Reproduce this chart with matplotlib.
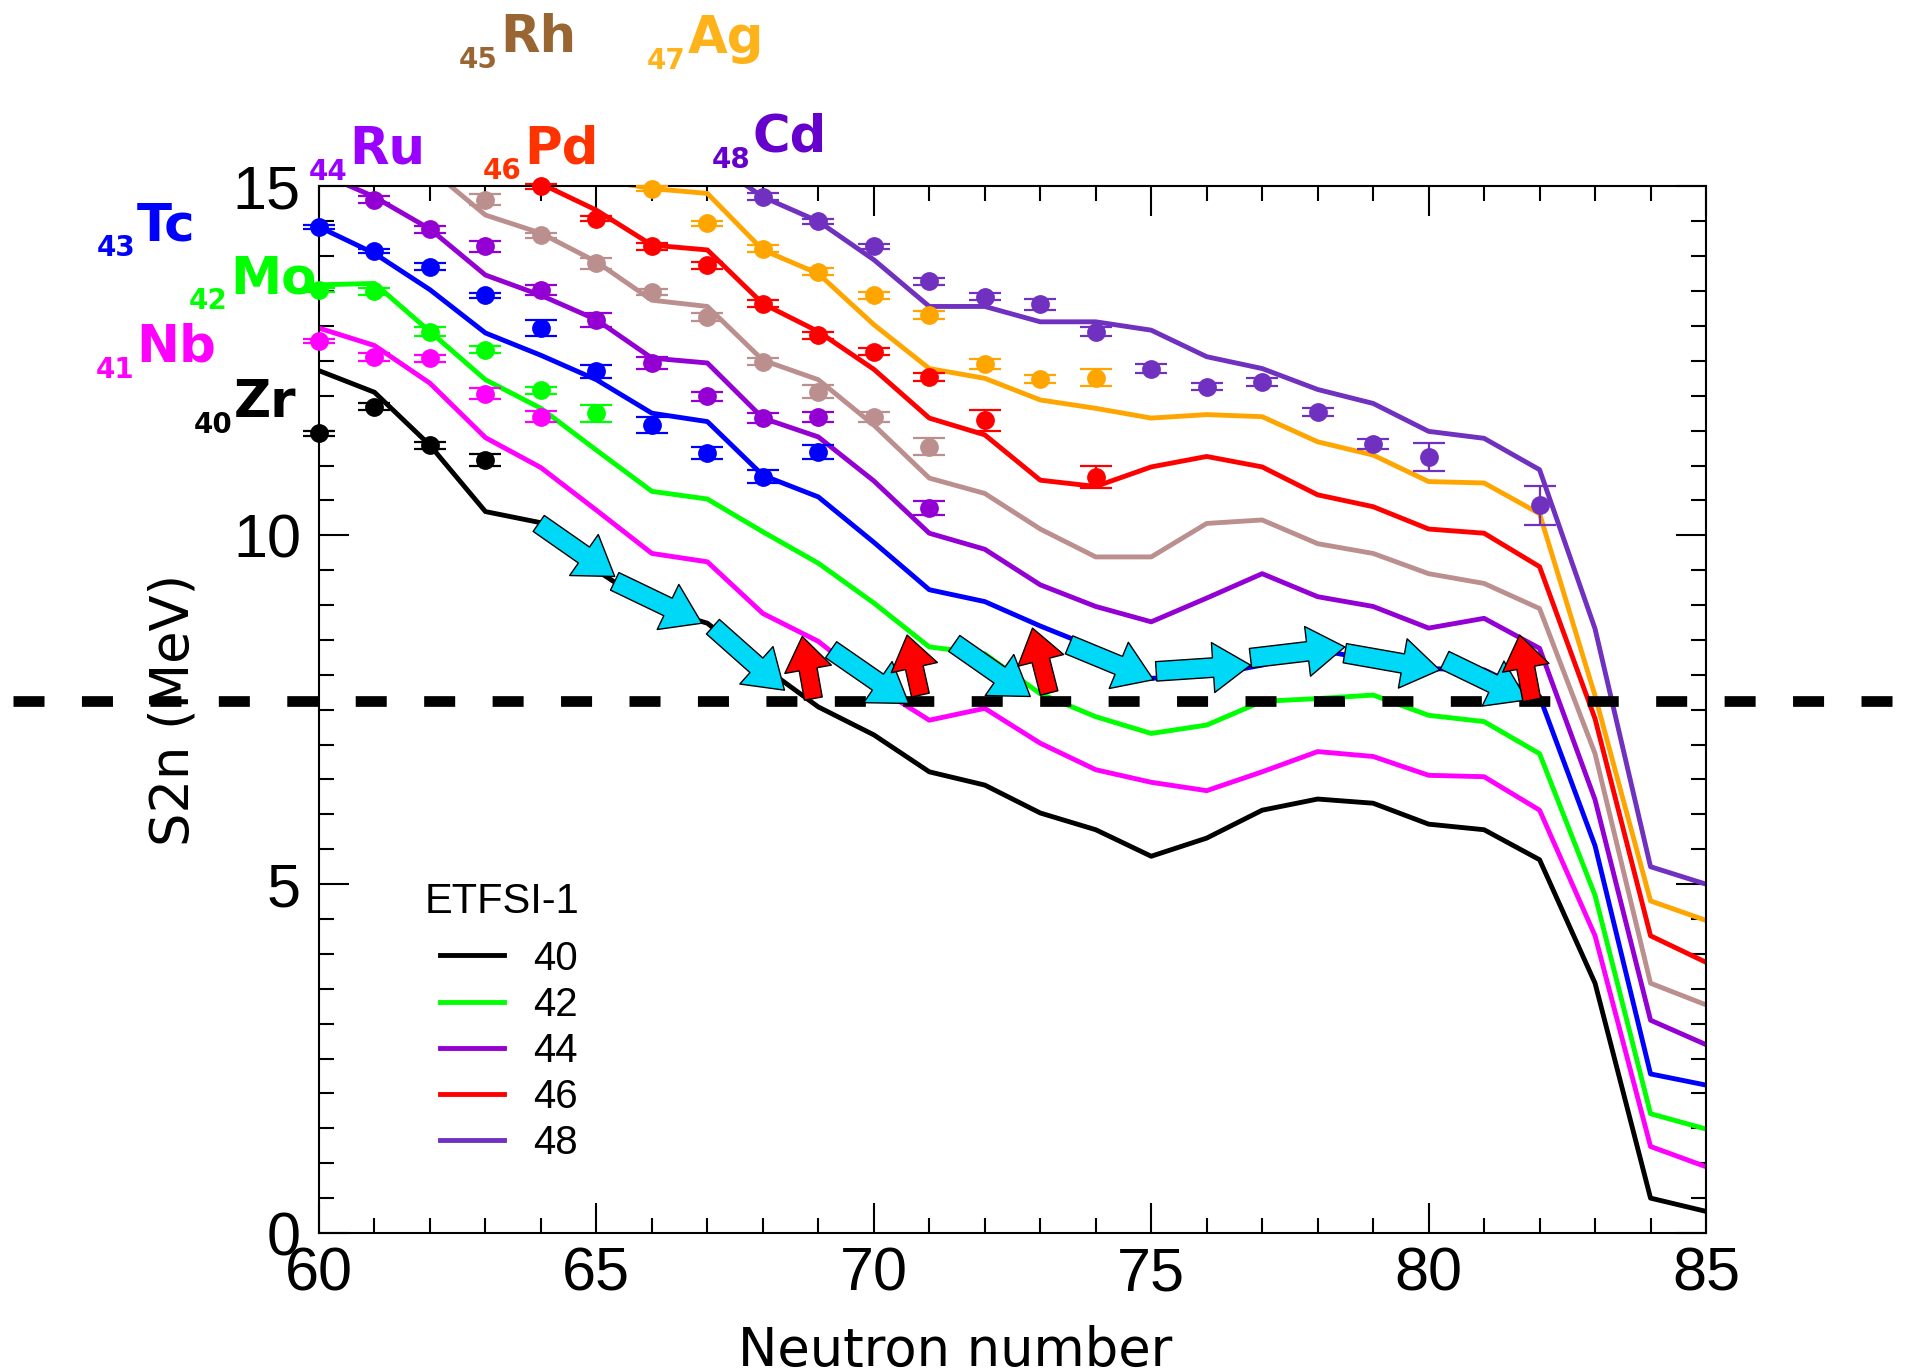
import matplotlib
matplotlib.use("Agg")
import matplotlib.pyplot as plt
from matplotlib.lines import Line2D
from matplotlib.ticker import MultipleLocator
from matplotlib.transforms import blended_transform_factory

plt.rcParams["font.family"] = ["Liberation Sans", "DejaVu Sans"]

# neutron numbers of the ETFSI-1 curves
neutrons = list(range(60, 86))

# ETFSI-1 S2n (MeV) for Z = 40..48, N = 60..85
etfsi_40 = [12.36, 12.05, 11.29, 10.34, 10.18, 9.50, 8.98, 8.74, 8.12, 7.54, 7.14, 6.61, 6.42,
            6.02, 5.78, 5.40, 5.66, 6.06, 6.22, 6.16, 5.86, 5.78, 5.35, 3.58, 0.50, 0.31]
etfsi_41 = [12.97, 12.72, 12.18, 11.40, 10.97, 10.36, 9.74, 9.62, 8.88, 8.48, 7.85, 7.35, 7.52,
            7.02, 6.64, 6.46, 6.34, 6.61, 6.90, 6.83, 6.56, 6.54, 6.06, 4.26, 1.24, 0.95]
etfsi_42 = [13.59, 13.61, 12.92, 12.23, 11.82, 11.22, 10.63, 10.52, 10.05, 9.60, 9.03, 8.40, 8.30,
            7.73, 7.40, 7.16, 7.28, 7.62, 7.66, 7.71, 7.42, 7.33, 6.87, 4.84, 1.71, 1.49]
etfsi_43 = [14.42, 14.04, 13.52, 12.90, 12.58, 12.23, 11.75, 11.63, 10.86, 10.55, 9.90, 9.22, 9.05,
            8.70, 8.38, 7.95, 7.99, 8.14, 8.36, 8.21, 8.09, 8.07, 7.69, 5.55, 2.28, 2.12]
etfsi_44 = [15.20, 14.85, 14.39, 13.73, 13.44, 13.09, 12.54, 12.47, 11.68, 11.41, 10.78, 10.03, 9.80,
            9.29, 8.98, 8.76, 9.10, 9.45, 9.12, 8.98, 8.67, 8.81, 8.38, 6.21, 3.05, 2.70]
etfsi_45 = [16.20, 15.70, 15.25, 14.59, 14.33, 13.92, 13.37, 13.28, 12.51, 12.23, 11.58, 10.82, 10.60,
            10.09, 9.69, 9.69, 10.17, 10.22, 9.88, 9.74, 9.45, 9.31, 8.95, 6.87, 3.58, 3.27]
etfsi_46 = [16.80, 16.40, 15.90, 15.50, 15.04, 14.66, 14.16, 14.09, 13.32, 12.92, 12.38, 11.68, 11.44,
            10.79, 10.70, 10.98, 11.13, 10.98, 10.58, 10.41, 10.09, 10.03, 9.55, 7.37, 4.26, 3.88]
etfsi_47 = [17.60, 17.10, 16.60, 16.20, 15.60, 15.10, 14.97, 14.90, 14.09, 13.75, 13.02, 12.39, 12.25,
            11.94, 11.82, 11.68, 11.73, 11.70, 11.34, 11.15, 10.77, 10.75, 10.31, 7.70, 4.76, 4.48]
etfsi_48 = [18.60, 18.10, 17.60, 17.10, 16.60, 16.20, 15.80, 15.40, 14.85, 14.50, 13.95, 13.28, 13.28,
            13.06, 13.06, 12.94, 12.56, 12.39, 12.09, 11.89, 11.49, 11.39, 10.94, 8.66, 5.25, 5.00]

# measured S2n with errors
exp_n_40 = [60, 61, 62, 63]
exp_s_40 = [11.46, 11.84, 11.29, 11.08]
exp_e_40 = [0.04, 0.05, 0.05, 0.08]
exp_n_41 = [60, 61, 62, 63, 64]
exp_s_41 = [12.78, 12.56, 12.54, 12.03, 11.70]
exp_e_41 = [0.03, 0.06, 0.05, 0.08, 0.08]
exp_n_42 = [60, 61, 62, 63, 64, 65]
exp_s_42 = [13.52, 13.50, 12.92, 12.66, 12.08, 11.75]
exp_e_42 = [0.03, 0.05, 0.06, 0.05, 0.05, 0.12]
exp_n_43 = [60, 61, 62, 63, 64, 65, 66, 67, 68, 69]
exp_s_43 = [14.42, 14.07, 13.85, 13.44, 12.97, 12.35, 11.58, 11.18, 10.84, 11.20]
exp_e_43 = [0.03, 0.03, 0.05, 0.04, 0.11, 0.09, 0.12, 0.09, 0.09, 0.10]
exp_n_44 = [61, 62, 63, 64, 65, 66, 67, 68, 69, 71]
exp_s_44 = [14.81, 14.39, 14.14, 13.52, 13.08, 12.47, 11.99, 11.68, 11.70, 10.39]
exp_e_44 = [0.05, 0.05, 0.08, 0.07, 0.10, 0.09, 0.07, 0.07, 0.07, 0.10]
exp_n_45 = [63, 64, 65, 66, 67, 68, 69, 70, 71]
exp_s_45 = [14.81, 14.30, 13.90, 13.49, 13.13, 12.49, 12.06, 11.70, 11.27]
exp_e_45 = [0.08, 0.04, 0.08, 0.04, 0.06, 0.05, 0.09, 0.07, 0.12]
exp_n_46 = [64, 65, 66, 67, 68, 69, 70, 71, 72, 74]
exp_s_46 = [15.00, 14.54, 14.14, 13.87, 13.32, 12.87, 12.63, 12.27, 11.65, 10.84]
exp_e_46 = [0.03, 0.04, 0.05, 0.05, 0.05, 0.05, 0.05, 0.06, 0.15, 0.16]
exp_n_47 = [66, 67, 68, 69, 70, 71, 72, 73, 74]
exp_s_47 = [14.97, 14.47, 14.11, 13.78, 13.44, 13.16, 12.46, 12.24, 12.26]
exp_e_47 = [0.03, 0.04, 0.05, 0.05, 0.05, 0.06, 0.07, 0.06, 0.12]
exp_n_48 = [68, 69, 70, 71, 72, 73, 74, 75, 76, 77, 78, 79, 80, 82]
exp_s_48 = [14.85, 14.50, 14.14, 13.64, 13.42, 13.31, 12.92, 12.39, 12.13, 12.20, 11.77, 11.31, 11.12, 10.43]
exp_e_48 = [0.05, 0.04, 0.04, 0.05, 0.05, 0.08, 0.06, 0.06, 0.05, 0.06, 0.06, 0.07, 0.20, 0.28]

proton_numbers = [40, 41, 42, 43, 44, 45, 46, 47, 48]
symbols = ["Zr", "Nb", "Mo", "Tc", "Ru", "Rh", "Pd", "Ag", "Cd"]
line_colors = ["black", "#ff00ff", "#00ff00", "#0000ff", "#9400d3",
               "#bc8f8f", "#ff0000", "#ffa500", "#7030c0"]
label_colors = ["black", "#ff00ff", "#00ff00", "#0000ff", "#9900ff",
                "#996633", "#ff3300", "#ffb31a", "#6600cc"]
# where the element names sit (figure fraction, symbol baseline)
label_x = [0.1206, 0.0696, 0.1185, 0.0702, 0.1804, 0.2588, 0.2713, 0.3565, 0.3903]
label_y = [0.6956, 0.7358, 0.7861, 0.8248, 0.8803, 0.9620, 0.8810, 0.9613, 0.8891]

legend_Z = [40, 42, 44, 46, 48]

# shell-gap marker and the arrows that walk along it
s2n_level = 7.63
cyan_from = [(63.96, 10.17), (65.33, 9.34), (67.10, 8.69), (69.23, 8.36), (71.45, 8.45),
             (73.52, 8.43), (75.09, 8.05), (76.79, 8.24), (78.49, 8.31), (80.29, 8.21)]
cyan_to = [(65.33, 9.41), (66.90, 8.74), (68.39, 7.78), (70.63, 7.59), (72.82, 7.69),
           (75.04, 7.93), (76.79, 8.14), (78.49, 8.40), (80.20, 8.07), (81.77, 7.64)]
red_from = [(68.91, 7.66), (70.84, 7.71), (73.16, 7.74), (81.86, 7.64)]
red_to = [(68.71, 8.55), (70.60, 8.57), (72.86, 8.67), (81.64, 8.57)]

curves = [etfsi_40, etfsi_41, etfsi_42, etfsi_43, etfsi_44, etfsi_45, etfsi_46, etfsi_47, etfsi_48]
exp_n = [exp_n_40, exp_n_41, exp_n_42, exp_n_43, exp_n_44, exp_n_45, exp_n_46, exp_n_47, exp_n_48]
exp_s = [exp_s_40, exp_s_41, exp_s_42, exp_s_43, exp_s_44, exp_s_45, exp_s_46, exp_s_47, exp_s_48]
exp_e = [exp_e_40, exp_e_41, exp_e_42, exp_e_43, exp_e_44, exp_e_45, exp_e_46, exp_e_47, exp_e_48]

fig = plt.figure(figsize=(19.24, 13.70), dpi=100)
ax = fig.add_axes([0.1658, 0.1000, 0.7209, 0.7639])

for vals, col in zip(curves, line_colors):
    ax.plot(neutrons, vals, color=col, lw=3.5, zorder=2)

for n, s, e, col in zip(exp_n, exp_s, exp_e, line_colors):
    eb = ax.errorbar(n, s, yerr=e, fmt="o", color=col, ms=12.5, capsize=11.5,
                     elinewidth=1.6, capthick=1.6, zorder=3)
    eb.lines[0].set_clip_on(False)
    for part in eb.lines[1] + eb.lines[2]:
        part.set_clip_on(False)

# dashed line runs across the whole figure
trans = blended_transform_factory(fig.transFigure, ax.transData)
ax.plot([0.007, 0.995], [s2n_level, s2n_level], transform=trans, color="black",
        lw=7.7, dashes=(2.9, 3.5), clip_on=False, zorder=4)

for tail, head in zip(cyan_from, cyan_to):
    ax.annotate("", xy=head, xytext=tail, zorder=5,
                arrowprops=dict(arrowstyle="simple,head_length=27,head_width=36,tail_width=14",
                                mutation_scale=1, fc="#00d8f8", ec="black", lw=1,
                                shrinkA=0, shrinkB=0))
for tail, head in zip(red_from, red_to):
    ax.annotate("", xy=head, xytext=tail, zorder=5,
                arrowprops=dict(arrowstyle="simple,head_length=24,head_width=34,tail_width=13",
                                mutation_scale=1, fc="#ff0000", ec="black", lw=1,
                                shrinkA=0, shrinkB=0))

ax.set_xlim(60, 85)
ax.set_ylim(0, 15)
ax.xaxis.set_major_locator(MultipleLocator(5))
ax.xaxis.set_minor_locator(MultipleLocator(1))
ax.yaxis.set_major_locator(MultipleLocator(5))
ax.yaxis.set_minor_locator(MultipleLocator(0.5))
ax.tick_params(which="both", direction="in", top=True, right=True, width=1.5, labelsize=44)
ax.tick_params(which="major", length=21.6)
ax.tick_params(which="minor", length=10.8)
ax.tick_params(axis="x", pad=10)
ax.tick_params(axis="y", pad=13)
for sp in ax.spines.values():
    sp.set_linewidth(1.5)

ax.set_xlabel("Neutron number", fontsize=38, family="DejaVu Sans")
ax.xaxis.set_label_coords(0.459, -0.088)
ax.set_ylabel("S2n (MeV)", fontsize=38, family="DejaVu Sans")
ax.yaxis.set_label_coords(-0.086, 0.5)

# legend: title drawn on its own so the rows can sit lower
fig.text(0.2209, 0.3336, "ETFSI-1", fontsize=30, ha="left", va="baseline")
handles = [Line2D([], [], color=line_colors[proton_numbers.index(z)], lw=3.5) for z in legend_Z]
ax.legend(handles, [str(z) for z in legend_Z], loc="upper left",
          bbox_to_anchor=(0.2287, 0.3142), bbox_transform=fig.transFigure, frameon=False,
          fontsize=29, handlelength=1.59, handletextpad=0.72,
          labelspacing=0.2, borderpad=0, borderaxespad=0)

sub_drop = 0.0117
for z, sym, x, y, col in zip(proton_numbers, symbols, label_x, label_y, label_colors):
    fig.text(x, y - sub_drop, str(z), color=col, fontsize=20, fontweight="bold",
             family="DejaVu Sans", ha="right", va="baseline")
    fig.text(x + 0.001, y, sym, color=col, fontsize=37, fontweight="bold",
             family="DejaVu Sans", ha="left", va="baseline")

fig.savefig("out.png", dpi=100)
